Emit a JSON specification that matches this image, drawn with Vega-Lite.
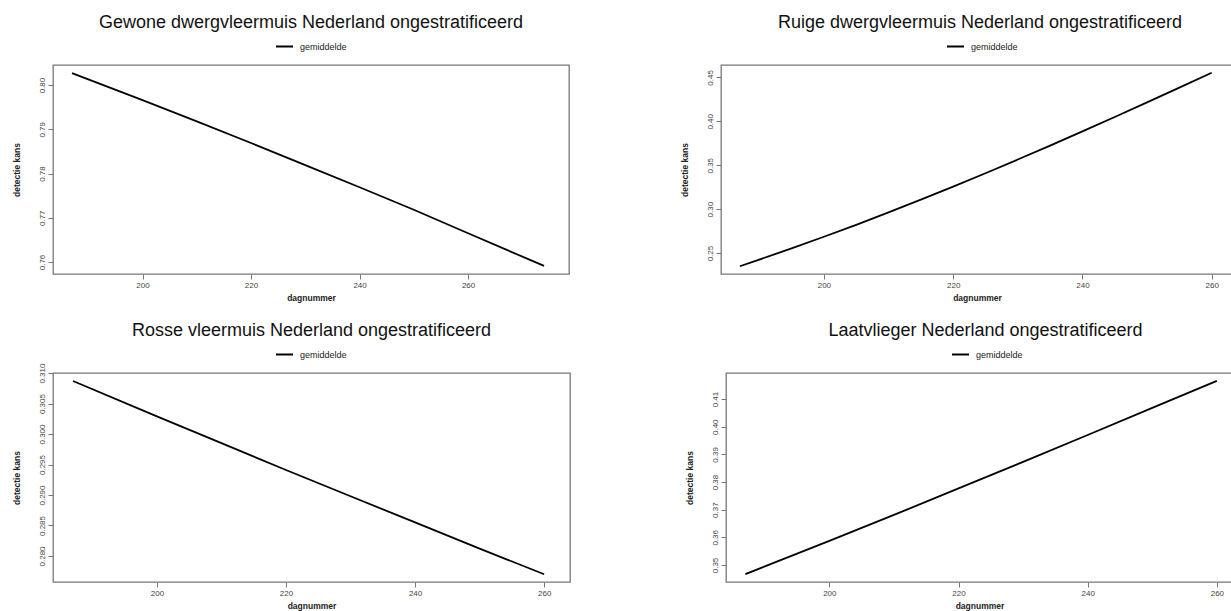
{
  "$schema": "https://vega.github.io/schema/vega-lite/v6.json",
  "padding": {"left": 11, "top": 13, "right": 0, "bottom": 0},
  "background": "white",
  "datasets": {
    "gewone": [
      {"dag": 187, "kans": 0.8027, "reeks": "gemiddelde"},
      {"dag": 200, "kans": 0.7966, "reeks": "gemiddelde"},
      {"dag": 210, "kans": 0.7918, "reeks": "gemiddelde"},
      {"dag": 220, "kans": 0.7869, "reeks": "gemiddelde"},
      {"dag": 230, "kans": 0.7819, "reeks": "gemiddelde"},
      {"dag": 240, "kans": 0.7769, "reeks": "gemiddelde"},
      {"dag": 250, "kans": 0.7718, "reeks": "gemiddelde"},
      {"dag": 260, "kans": 0.7665, "reeks": "gemiddelde"},
      {"dag": 274, "kans": 0.7591, "reeks": "gemiddelde"}
    ],
    "ruige": [
      {"dag": 187, "kans": 0.2350, "reeks": "gemiddelde"},
      {"dag": 195, "kans": 0.2553, "reeks": "gemiddelde"},
      {"dag": 200, "kans": 0.2686, "reeks": "gemiddelde"},
      {"dag": 205, "kans": 0.2822, "reeks": "gemiddelde"},
      {"dag": 210, "kans": 0.2963, "reeks": "gemiddelde"},
      {"dag": 215, "kans": 0.3108, "reeks": "gemiddelde"},
      {"dag": 220, "kans": 0.3257, "reeks": "gemiddelde"},
      {"dag": 225, "kans": 0.3409, "reeks": "gemiddelde"},
      {"dag": 230, "kans": 0.3565, "reeks": "gemiddelde"},
      {"dag": 235, "kans": 0.3724, "reeks": "gemiddelde"},
      {"dag": 240, "kans": 0.3885, "reeks": "gemiddelde"},
      {"dag": 245, "kans": 0.4049, "reeks": "gemiddelde"},
      {"dag": 250, "kans": 0.4215, "reeks": "gemiddelde"},
      {"dag": 255, "kans": 0.4383, "reeks": "gemiddelde"},
      {"dag": 260, "kans": 0.4553, "reeks": "gemiddelde"}
    ],
    "rosse": [
      {"dag": 187, "kans": 0.3087, "reeks": "gemiddelde"},
      {"dag": 200, "kans": 0.3029, "reeks": "gemiddelde"},
      {"dag": 210, "kans": 0.2985, "reeks": "gemiddelde"},
      {"dag": 220, "kans": 0.2941, "reeks": "gemiddelde"},
      {"dag": 230, "kans": 0.2898, "reeks": "gemiddelde"},
      {"dag": 240, "kans": 0.2855, "reeks": "gemiddelde"},
      {"dag": 250, "kans": 0.2812, "reeks": "gemiddelde"},
      {"dag": 260, "kans": 0.2770, "reeks": "gemiddelde"}
    ],
    "laat": [
      {"dag": 187, "kans": 0.3467, "reeks": "gemiddelde"},
      {"dag": 200, "kans": 0.3587, "reeks": "gemiddelde"},
      {"dag": 210, "kans": 0.3681, "reeks": "gemiddelde"},
      {"dag": 220, "kans": 0.3777, "reeks": "gemiddelde"},
      {"dag": 230, "kans": 0.3873, "reeks": "gemiddelde"},
      {"dag": 240, "kans": 0.3970, "reeks": "gemiddelde"},
      {"dag": 250, "kans": 0.4068, "reeks": "gemiddelde"},
      {"dag": 260, "kans": 0.4166, "reeks": "gemiddelde"}
    ]
  },
  "config": {
    "font": "Liberation Sans",
    "view": {"stroke": "#777777", "strokeWidth": 1.3},
    "axis": {
      "domain": false, "grid": false, "ticks": true,
      "tickColor": "#777777", "tickSize": 5, "tickWidth": 1,
      "labelFontSize": 8, "labelColor": "#444444", "labelPadding": 2,
      "titleFontSize": 8.5, "titleFontWeight": "bold", "titleColor": "#222222"
    },
    "axisX": {"titlePadding": 4},
    "axisY": {"labelAngle": 270, "labelAlign": "center", "labelBaseline": "bottom", "titlePadding": 17},
    "title": {"fontSize": 18, "fontWeight": "normal", "color": "#111111", "frame": "group", "anchor": "middle", "offset": 5},
    "legend": {"orient": "none", "legendX": 222, "legendY": -28, "title": null, "symbolType": "stroke", "symbolSize": 289, "symbolStrokeWidth": 2, "symbolStrokeColor": "black", "labelFontSize": 9, "labelColor": "#222222", "labelOffset": 6, "padding": 0}
  },
  "resolve": {"scale": {"color": "independent"}, "legend": {"color": "independent"}},
  "spacing": 18,
  "vconcat": [
    {
      "spacing": 109,
      "resolve": {"scale": {"color": "independent"}, "legend": {"color": "independent"}},
      "hconcat": [
        {
          "width": 516, "height": 209,
          "title": {"text": "Gewone dwergvleermuis Nederland ongestratificeerd"},
          "data": {"name": "gewone"},
          "mark": {"type": "line", "strokeWidth": 1.8},
          "encoding": {
            "x": {"field": "dag", "type": "quantitative", "scale": {"domain": [183.5, 278.6], "nice": false, "zero": false}, "axis": {"title": "dagnummer", "values": [200, 220, 240, 260]}},
            "y": {"field": "kans", "type": "quantitative", "scale": {"domain": [0.75728, 0.80454], "nice": false, "zero": false}, "axis": {"title": "detectie kans", "values": [0.76, 0.77, 0.78, 0.79, 0.80], "format": ".2f"}},
            "color": {"field": "reeks", "type": "nominal", "scale": {"range": ["black"]}}
          }
        },
        {
          "width": 512, "height": 209,
          "title": {"text": "Ruige dwergvleermuis Nederland ongestratificeerd", "dx": 3},
          "data": {"name": "ruige"},
          "mark": {"type": "line", "strokeWidth": 1.8},
          "encoding": {
            "x": {"field": "dag", "type": "quantitative", "scale": {"domain": [184.08, 263.3], "nice": false, "zero": false}, "axis": {"title": "dagnummer", "values": [200, 220, 240, 260]}},
            "y": {"field": "kans", "type": "quantitative", "scale": {"domain": [0.2262, 0.4641], "nice": false, "zero": false}, "axis": {"title": "detectie kans", "values": [0.25, 0.30, 0.35, 0.40, 0.45], "format": ".2f"}},
            "color": {"field": "reeks", "type": "nominal", "scale": {"range": ["black"]}, "legend": {"legendX": 225}}
          }
        }
      ]
    },
    {
      "spacing": 113,
      "resolve": {"scale": {"color": "independent"}, "legend": {"color": "independent"}},
      "hconcat": [
        {
          "width": 517, "height": 209,
          "title": {"text": "Rosse vleermuis Nederland ongestratificeerd"},
          "data": {"name": "rosse"},
          "mark": {"type": "line", "strokeWidth": 1.8},
          "encoding": {
            "x": {"field": "dag", "type": "quantitative", "scale": {"domain": [183.9, 264.0], "nice": false, "zero": false}, "axis": {"title": "dagnummer", "values": [200, 220, 240, 260]}},
            "y": {"field": "kans", "type": "quantitative", "scale": {"domain": [0.27573, 0.31001], "nice": false, "zero": false}, "axis": {"title": "detectie kans", "values": [0.280, 0.285, 0.290, 0.295, 0.300, 0.305, 0.310], "format": ".3f"}},
            "color": {"field": "reeks", "type": "nominal", "scale": {"range": ["black"]}}
          }
        },
        {
          "width": 507, "height": 209,
          "title": {"text": "Laatvlieger Nederland ongestratificeerd", "dx": 6},
          "data": {"name": "laat"},
          "mark": {"type": "line", "strokeWidth": 1.8},
          "encoding": {
            "x": {"field": "dag", "type": "quantitative", "scale": {"domain": [184.0, 262.5], "nice": false, "zero": false}, "axis": {"title": "dagnummer", "values": [200, 220, 240, 260]}},
            "y": {"field": "kans", "type": "quantitative", "scale": {"domain": [0.34385, 0.41943], "nice": false, "zero": false}, "axis": {"title": "detectie kans", "values": [0.35, 0.36, 0.37, 0.38, 0.39, 0.40, 0.41], "format": ".2f"}},
            "color": {"field": "reeks", "type": "nominal", "scale": {"range": ["black"]}, "legend": {"legendX": 225}}
          }
        }
      ]
    }
  ]
}
